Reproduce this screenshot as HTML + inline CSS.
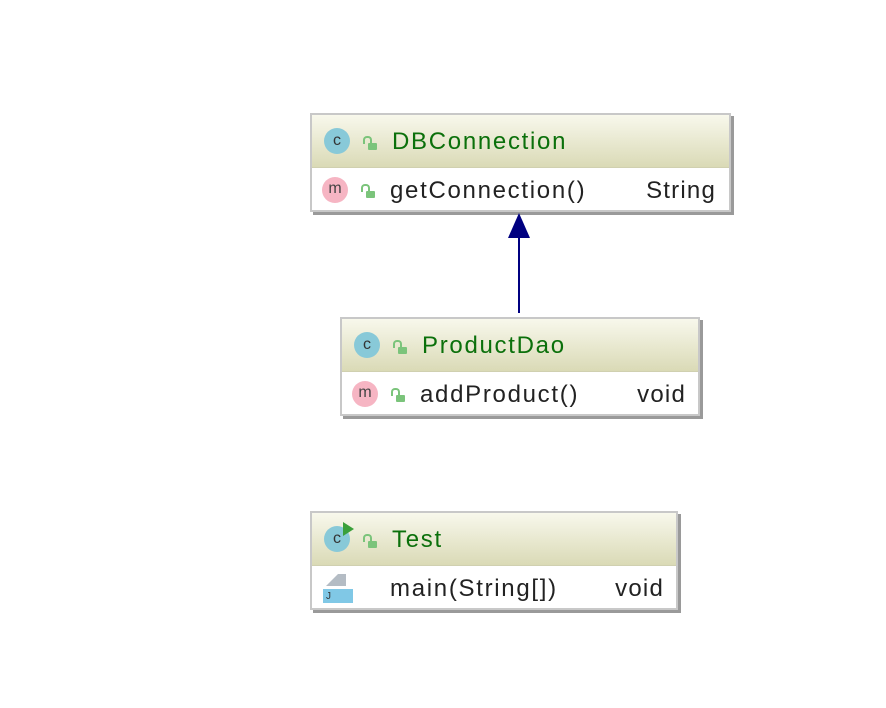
<!DOCTYPE html>
<html><head><style>
body{margin:0;width:886px;height:708px;background:#fff;position:relative;font-family:"Liberation Sans","DejaVu Sans",sans-serif;overflow:hidden}
.box{position:absolute;border:2px solid #c8c8c8;background:#fff;box-shadow:3px 3px 0 #9a9a9a;box-sizing:border-box}
.hd{height:52px;background:linear-gradient(#f8f8ec,#dadab6);border-bottom:1px solid #d0d0b0;position:relative}
.row{height:44px;position:relative}
.t{position:absolute;font-size:24px;line-height:1;letter-spacing:1.7px;color:#222;white-space:nowrap}
.ci{position:absolute;width:26px;height:26px;border-radius:50%;background:#88c9d8;color:#333;font-size:16px;text-align:center;line-height:26px}
.mi{position:absolute;width:26px;height:26px;border-radius:50%;background:#f6b5c3;color:#444;font-size:16px;text-align:center;line-height:24px}
.lk{position:absolute;width:9px;height:7px;background:#7bc47b;border-radius:1px}
.lk:before{content:"";position:absolute;left:-5px;top:-7px;width:5px;height:6px;border:2px solid #7bc47b;border-bottom:none;border-radius:4px 4px 0 0}
.g{color:#0b700b}
</style></head><body>

<div class="box" style="left:310px;top:113px;width:421px;height:99px">
 <div class="hd"><div class="ci" style="left:12px;top:13px">c</div><div class="lk" style="left:56px;top:28px"></div><div class="t g" style="left:80px;top:15px">DBConnection</div></div>
 <div class="row"><div class="mi" style="left:10px;top:9px">m</div><div class="lk" style="left:54px;top:23px"></div><div class="t" style="left:78px;top:11px">getConnection()</div><div class="t" style="right:13px;top:11px;letter-spacing:1.2px">String</div></div>
</div>

<svg style="position:absolute;left:0;top:0" width="886" height="708">
<line x1="519" y1="313" x2="519" y2="236" stroke="#000080" stroke-width="2"/>
<polygon points="519,213 508,238 530,238" fill="#000080"/>
</svg>

<div class="box" style="left:340px;top:317px;width:360px;height:99px">
 <div class="hd"><div class="ci" style="left:12px;top:13px">c</div><div class="lk" style="left:56px;top:28px"></div><div class="t g" style="left:80px;top:15px">ProductDao</div></div>
 <div class="row"><div class="mi" style="left:10px;top:9px">m</div><div class="lk" style="left:54px;top:23px"></div><div class="t" style="left:78px;top:11px">addProduct()</div><div class="t" style="right:12px;top:11px;letter-spacing:1.2px">void</div></div>
</div>

<div class="box" style="left:310px;top:511px;width:368px;height:99px">
 <div class="hd"><div class="ci" style="left:12px;top:13px">c</div>
  <div style="position:absolute;left:31px;top:9px;width:0;height:0;border-top:7px solid transparent;border-bottom:7px solid transparent;border-left:11px solid #3aa03a"></div>
  <div class="lk" style="left:56px;top:28px"></div><div class="t g" style="left:80px;top:15px">Test</div></div>
 <div class="row">
  <div style="position:absolute;left:14px;top:8px;width:20px;height:12px;background:#b4bcc4;clip-path:polygon(0 100%,60% 0,100% 0,100% 100%)"></div>
  <div style="position:absolute;left:11px;top:23px;width:30px;height:14px;background:#80c8e6;font-size:10px;color:#333;padding-left:3px;box-sizing:border-box;line-height:15px">J</div>
  <div class="t" style="left:78px;top:11px">main(String[])</div><div class="t" style="right:12px;top:11px;letter-spacing:1.2px">void</div></div>
</div>

</body></html>
